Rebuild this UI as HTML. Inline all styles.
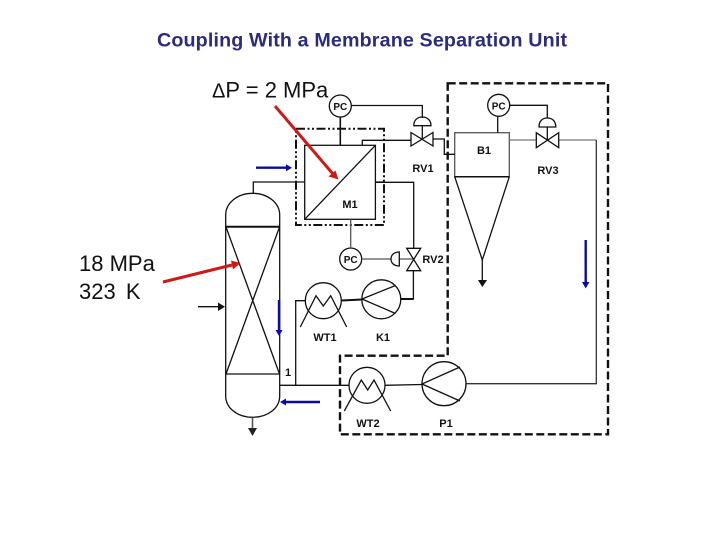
<!DOCTYPE html>
<html><head><meta charset="utf-8"><style>
html,body{margin:0;padding:0;background:#fff;width:720px;height:540px;overflow:hidden}
svg{display:block}
text{font-family:"Liberation Sans",sans-serif}
.l{font-size:11px;font-weight:bold;fill:#111;text-anchor:middle}
.b{fill:none;stroke:#111;stroke-width:1.3}
.g{fill:none;stroke:#555;stroke-width:1.3}
.t{fill:none;stroke:#111;stroke-width:2}
</style></head><body>
<svg width="720" height="540" viewBox="0 0 720 540" xmlns="http://www.w3.org/2000/svg">
<text x="157" y="46.5" font-size="19.7" font-weight="bold" fill="#2b2b80" textLength="410" lengthAdjust="spacing">Coupling With a Membrane Separation Unit</text>
<text x="212" y="97.5" font-size="22" fill="#111"><tspan font-size="20">Δ</tspan>P = 2 MPa</text>
<text x="79" y="271" font-size="22" fill="#111">18 MPa</text>
<text x="79" y="299" font-size="22" fill="#111" word-spacing="4">323 K</text>

<!-- dashed boxes -->
<path d="M447.7 83.3H608V434.3H340V355.7H447.7Z" fill="none" stroke="#111" stroke-width="2.4" stroke-dasharray="8 3.5"/>
<rect x="296" y="128.7" width="88" height="96.3" fill="none" stroke="#111" stroke-width="2" stroke-dasharray="9 2.5 2 2.5 2 2.5"/>

<!-- column -->
<path class="b" d="M225.7 215C225.7 203 237.5 193.3 252.7 193.3S279.7 203 279.7 215V396C279.7 408 268 417.3 252.7 417.3S225.7 408 225.7 396Z"/>
<path d="M225.7 226.7H279.7" stroke="#111" stroke-width="2"/>
<path class="b" d="M225.7 374H279.7M226 227L279.5 374M279.5 227L226 374"/>
<text class="l" x="288" y="376">1</text>

<!-- M1 -->
<rect class="b" x="304.7" y="145.3" width="70.7" height="74"/>
<path class="b" d="M304.7 219.3L375.4 145.3"/>
<text class="l" x="350" y="208">M1</text>

<!-- B1 -->
<rect class="g" x="454.7" y="132.7" width="54.6" height="44"/>
<path d="M454.7 176.7H509.3" stroke="#111" stroke-width="1.5"/>
<path class="b" d="M454.7 176.7L482.3 260L509.3 176.7"/>
<text class="l" x="484" y="154">B1</text>

<!-- PC circles -->
<circle class="b" cx="340.3" cy="106" r="11"/>
<circle class="b" cx="498.7" cy="105.3" r="11"/>
<circle class="b" cx="350.7" cy="259" r="11"/>
<text class="l" x="340.3" y="110" style="font-size:10px">PC</text>
<text class="l" x="498.7" y="109.5" style="font-size:10px">PC</text>
<text class="l" x="350.7" y="263" style="font-size:10px">PC</text>

<!-- pipes -->
<path class="b" d="M351.3 105.5H422.3V118"/>
<path class="t" d="M340.3 117V145.3" style="stroke-width:1.6"/>
<path class="b" d="M362.3 145.3V140.3H411M433 139H444.3V154.3H455"/>
<path class="b" d="M497.7 116.3V132.7M509.7 105.3H547.3V118"/>
<path class="g" d="M509.3 140H536.3M558.7 140H596.3" style="stroke:#777"/>
<path class="b" d="M596.3 140V383.7H466" style="stroke:#333"/>
<path class="b" d="M375.4 182.3H413.7V248.3"/>
<path class="b" d="M413.4 270.7V299H400.7"/>
<path d="M400.7 299H413.4" stroke="#111" stroke-width="2"/>
<path class="g" d="M350.7 219.3V248M361.7 259H391M399.3 259H413.4"/>
<path d="M341.5 300.5L362 299.5" stroke="#111" stroke-width="2"/>
<path class="b" d="M305.3 300.7H295.7V385.3M279.7 385.3H349M385 385.3L422 384.5"/>
<path class="b" d="M253.3 193.3V182H304.7M375.4 182H384"/>
<path class="b" d="M198 306.7H218"/>
<path d="M218 302.5L225 306.7L218 311Z" fill="#111"/>
<path class="g" d="M252.5 417.3V430" style="stroke-width:1.6"/>
<path d="M248 428H257L252.5 436Z" fill="#222"/>
<path class="b" d="M482.3 260V281"/>
<path d="M478 280H487L482.3 287Z" fill="#111"/>

<!-- valves -->
<path class="b" d="M411 132.5L433 146V132.5L411 146Z"/>
<path class="b" d="M413.8 125.7C413.8 120 417.5 117 422.3 117S431 120 431 125.7Z"/>
<path class="b" d="M422.3 125.7V139"/>
<path class="b" d="M536.3 132.7L558.7 147.7V132.7L536.3 147.7Z"/>
<path class="b" d="M539 127C539 121 542.5 118 547.3 118S555.8 121 555.8 127Z"/>
<path class="b" d="M547.3 127V140"/>
<path class="b" d="M406.7 248.3H420.7L406.7 270.7H420.7Z"/>
<path class="b" d="M399.3 252V266C394 266 391 263 391 259S394 252 399.3 252Z"/>

<!-- K1 -->
<circle class="b" cx="381.3" cy="299.3" r="19.5"/>
<path class="b" d="M362 299L395.5 285.5M362 299L395.5 313.5"/>
<!-- WT1 -->
<circle class="b" cx="323.3" cy="300.7" r="18"/>
<path class="b" d="M300.3 327L316 295.7L323.3 306L330.7 295.7L346.7 327"/>
<!-- WT2 -->
<circle class="b" cx="367" cy="385.3" r="18"/>
<path class="b" d="M344.3 411L361.3 380L367.7 390L374 380L390.7 411"/>
<!-- P1 -->
<circle class="b" cx="444" cy="383.7" r="22"/>
<path class="b" d="M422 384L460 367M422 384L460 401"/>

<text class="l" x="423" y="172">RV1</text>
<text class="l" x="548" y="174">RV3</text>
<text class="l" x="433" y="263">RV2</text>
<text class="l" x="325" y="341">WT1</text>
<text class="l" x="383" y="341">K1</text>
<text class="l" x="368" y="427">WT2</text>
<text class="l" x="446" y="427">P1</text>

<!-- blue -->
<g stroke="#0a0aa8" stroke-width="2.4" fill="#0a0aa8">
<path d="M279 300V331"/><path d="M275.5 330H282.5L279 336Z" stroke="none"/>
<path d="M320 402H285"/><path d="M286 398.5V405.5L280 402Z" stroke="none"/>
<path d="M585.7 240V283"/><path d="M582 282H589.4L585.7 288.5Z" stroke="none"/>
<path d="M256 167.7H287"/><path d="M286 164.2V171.2L292 167.7Z" stroke="none"/>
</g>
<!-- red -->
<g stroke="#d01818" stroke-width="3" fill="#d01818">
<path d="M275 106L333 174"/>
<path d="M328.5 176.5L335.5 170.5L338.5 179.5Z" stroke="none"/>
<path d="M163 282L232 265"/><path d="M231 260.5L233 269.5L240.5 263Z" stroke="none"/>
</g>
</svg>
</body></html>
